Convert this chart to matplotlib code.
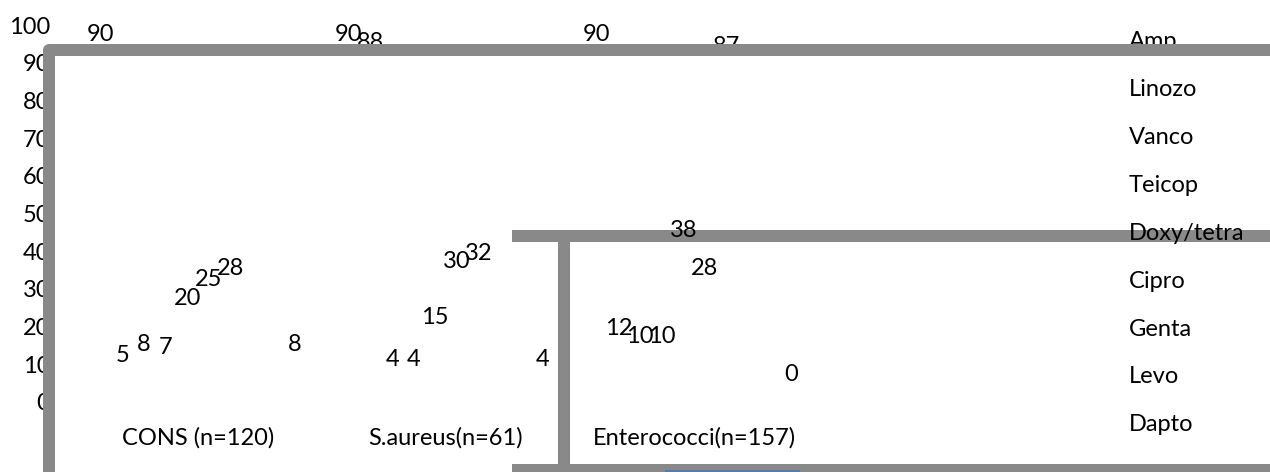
import numpy as np
import matplotlib.pyplot as plt
from matplotlib.lines import Line2D
from matplotlib.patches import Rectangle

plt.rcParams['font.family'] = ['Lato', 'DejaVu Sans']

# groups on the category axis
groups = ['CONS (n=120)', 'S.aureus(n=61)', 'Enterococci(n=157)']
# one bar slot per drug; last legend entry falls off the bottom of the picture
drugs = ['Amp', 'Linozo', 'Vanco', 'Teicop', 'Doxy/tetra', 'Cipro', 'Genta', 'Levo', 'Dapto', '']

# % per drug slot, nan = slot with no label
cons = [90, 5, 8, 7, 20, 25, 28, np.nan, np.nan, 8]
saureus = [90, 88, 4, 4, 15, 30, 32, np.nan, np.nan, 4]
entero = [90, 12, 10, 10, 38, 28, 87, np.nan, np.nan, 0]

yticks = list(range(0, 101, 10))

W, H = 1270, 472
FS = 17
gray = '#898989'

fig = plt.figure(figsize=(W / 100, H / 100), dpi=100)
ax = fig.add_axes([74 / W, 1 - 402 / H, 744 / W, 377 / H])
ax.patch.set_visible(False)
for s in ax.spines.values():
    s.set_visible(False)

table = np.array([cons, saureus, entero])
x = np.arange(len(groups))
w = 1 / 11.5
n = len(drugs)

handles = []
for i, name in enumerate(drugs):
    xs = x + (i - (n - 1) / 2) * w
    vals = table[:, i]
    # bars are invisible in the original, only their labels show
    b = ax.bar(xs, np.nan_to_num(vals), w, facecolor='none', edgecolor='none')
    handles.append(b)
    for xi, v in zip(xs, vals):
        if not np.isnan(v):
            ax.annotate(f'{v:.0f}', (xi, v), xytext=(0, 20), textcoords='offset points',
                        ha='center', va='center', fontsize=FS)

ax.set_xlim(-0.5, 2.5)
ax.set_ylim(0, 100)
ax.set_xticks(x, groups)
ax.set_yticks(yticks)
ax.tick_params(axis='both', length=0, labelsize=FS)
ax.tick_params(axis='y', pad=17)
ax.tick_params(axis='x', pad=18)

ax.legend(handles, drugs, loc='upper left', bbox_to_anchor=(1129 / W, 1 - 31 / H),
          bbox_transform=fig.transFigure, frameon=False, fontsize=FS,
          handlelength=0, handletextpad=0, borderpad=0, borderaxespad=0, labelspacing=1.14)


def px_line(xs, ys, z):
    return Line2D([v / W for v in xs], [1 - v / H for v in ys], transform=fig.transFigure,
                  color=gray, lw=8.64, solid_joinstyle='round', solid_capstyle='butt', zorder=z)


# thick grey frame pieces left over in the original picture
fig.add_artist(px_line([1290, 49, 49], [49.5, 49.5, 490], 10))
fig.add_artist(px_line([512, 1290], [236, 236], -1))
fig.add_artist(px_line([564, 564], [236, 470], -1))
fig.add_artist(px_line([512, 1290], [470, 470], -1))
fig.add_artist(Rectangle((665 / W, 0), 135 / W, 2.5 / H, transform=fig.transFigure,
                         facecolor='#4a7ebb', edgecolor='none', zorder=-0.5))

fig.savefig('out.png', dpi=100)
